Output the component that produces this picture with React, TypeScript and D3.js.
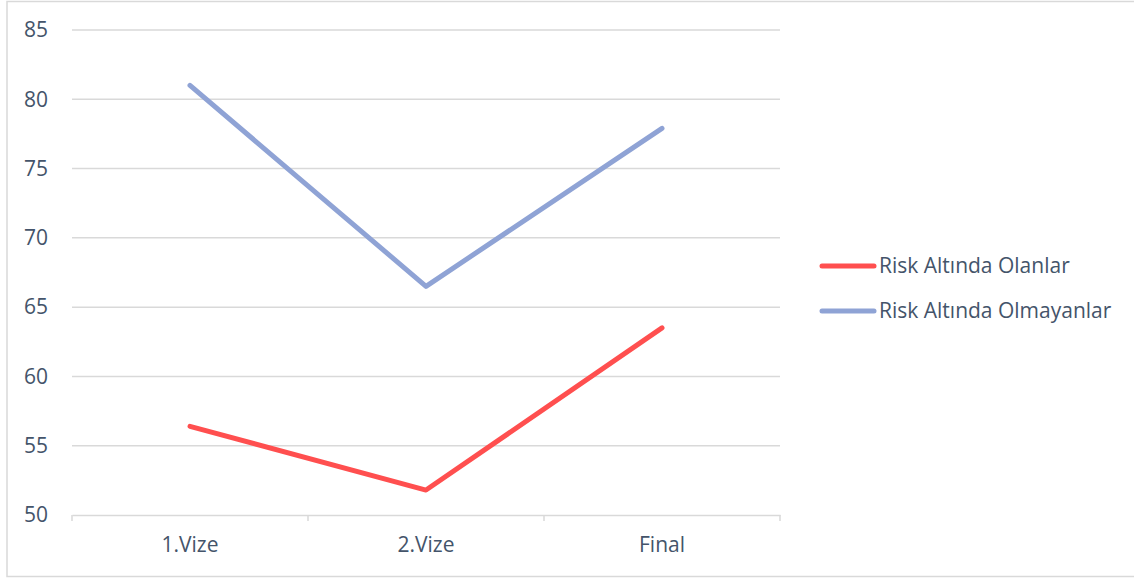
import React, { useEffect, useRef } from "react";
import * as d3 from "d3";

const categories = ["1.Vize", "2.Vize", "Final"];
const riskAltinda = [56.4, 51.8, 63.5];
const riskDisinda = [81.0, 66.5, 77.9];
const yTicks = [50, 55, 60, 65, 70, 75, 80, 85];
const seriesNames = ["Risk Altında Olanlar", "Risk Altında Olmayanlar"];
const seriesColors = ["#FF4F4F", "#8FA3D5"];

const App = () => {
  const ref = useRef<SVGSVGElement>(null);

  useEffect(() => {
    const svg = d3.select(ref.current);
    svg.selectAll("*").remove();

    const font = "'Open Sans', 'Noto Sans', sans-serif";
    const textColor = "#44546A";

    // outer frame
    svg.append("rect")
      .attr("x", 7).attr("y", 1.5)
      .attr("width", 1140).attr("height", 575)
      .attr("fill", "#fff").attr("stroke", "#D9D9D9").attr("stroke-width", 1.5);

    const x = d3.scaleBand().domain(categories).range([72, 780]);
    const y = d3.scaleLinear().domain([50, 85]).range([515, 30]);

    const grid = svg.append("g");
    grid.selectAll("line")
      .data(yTicks.filter(t => t > 50))
      .join("line")
      .attr("x1", 72).attr("x2", 780)
      .attr("y1", d => y(d)).attr("y2", d => y(d))
      .attr("stroke", "#D9D9D9").attr("stroke-width", 1.5);

    // x axis
    const xAxis = svg.append("g")
      .attr("transform", `translate(0,${y(50)})`)
      .call(d3.axisBottom(x).tickSize(0).tickPadding(22))
      .call(g => g.select(".domain").attr("stroke", "#D9D9D9").attr("stroke-width", 1.5));
    xAxis.selectAll("text")
      .attr("fill", textColor).style("font", `21px ${font}`);
    const edges = [...categories.map(c => x(c) as number), 780];
    xAxis.selectAll("line.edge")
      .data(edges)
      .join("line")
      .attr("class", "edge")
      .attr("x1", d => d).attr("x2", d => d)
      .attr("y1", 0).attr("y2", 6)
      .attr("stroke", "#D9D9D9").attr("stroke-width", 1.5);

    // y axis labels
    svg.append("g")
      .selectAll("text")
      .data(yTicks)
      .join("text")
      .attr("x", 48)
      .attr("y", d => y(d))
      .attr("dy", "0.35em")
      .attr("text-anchor", "end")
      .attr("fill", textColor)
      .style("font", `21px ${font}`)
      .text(d => d);

    const cx = (c: string) => (x(c) as number) + x.bandwidth() / 2;
    const line = d3.line<number>()
      .x((_, i) => cx(categories[i]))
      .y(d => y(d));

    [riskAltinda, riskDisinda].forEach((vals, i) => {
      svg.append("path")
        .datum(vals)
        .attr("d", line)
        .attr("fill", "none")
        .attr("stroke", seriesColors[i])
        .attr("stroke-width", 5)
        .attr("stroke-linecap", "round")
        .attr("stroke-linejoin", "round");
    });

    // legend
    const legend = svg.append("g");
    seriesNames.forEach((name, i) => {
      const ly = 266 + i * 45;
      legend.append("line")
        .attr("x1", 822).attr("x2", 874)
        .attr("y1", ly).attr("y2", ly)
        .attr("stroke", seriesColors[i])
        .attr("stroke-width", 5)
        .attr("stroke-linecap", "round");
      legend.append("text")
        .attr("x", 879).attr("y", ly)
        .attr("dy", "0.35em")
        .attr("fill", textColor)
        .style("font", `21px ${font}`)
        .text(name);
    });
  }, []);

  return (
    <svg
      ref={ref}
      width={1134}
      height={578}
      style={{ position: "absolute", left: 0, top: 0, display: "block" }}
    />
  );
};

export default App;
